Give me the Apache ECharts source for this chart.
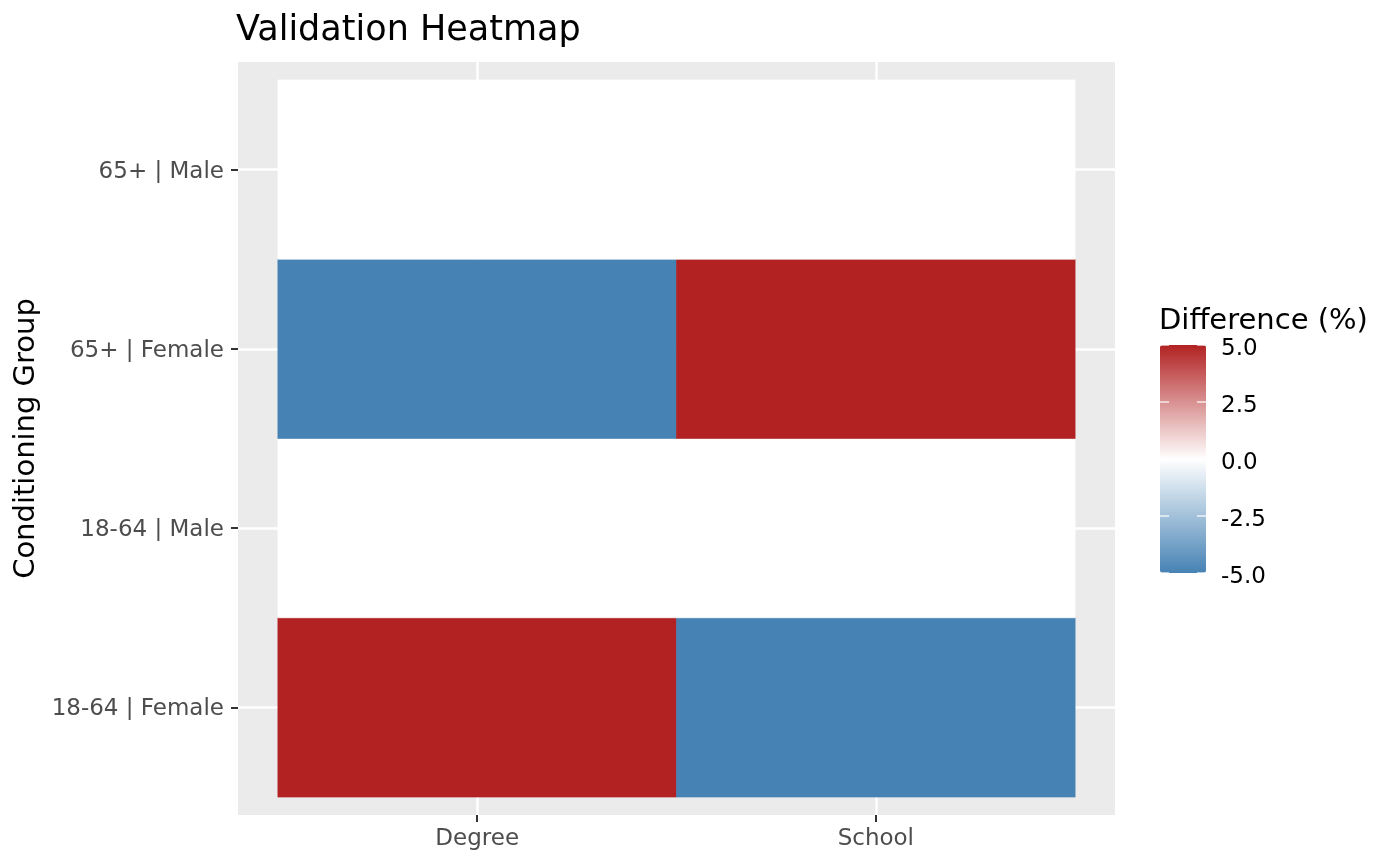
<!DOCTYPE html>
<html>
<head>
<meta charset="utf-8">
<script src="https://cdn.jsdelivr.net/npm/echarts@6/dist/echarts.min.js"></script>
<style>
  html, body { margin: 0; padding: 0; background: #fff; }
  #chart { width: 1400px; height: 865px; }
</style>
</head>
<body>
<div id="chart"></div>
<script>
// categories, bottom to top on the y axis
var variables = ['Degree', 'School'];
var groups = ['18-64 | Female', '18-64 | Male', '65+ | Female', '65+ | Male'];
// difference (%) per group
var degreeDiff = [5, 0, -5, 0];
var schoolDiff = [-5, 0, 5, 0];

var cells = [];
groups.forEach(function (g, i) {
  cells.push([0, i, degreeDiff[i]]);
  cells.push([1, i, schoolDiff[i]]);
});

var font = 'DejaVu Sans';
var xPos = [0, 1];
var yPos = [0, 1, 2, 3];
var noLine = { show: false, onZero: false };
var chart = echarts.init(document.getElementById('chart'));

var option = {
  backgroundColor: '#fff',
  animation: false,
  title: {
    text: 'Validation Heatmap',
    left: 236,
    top: 13,
    padding: 0,
    textStyle: { fontFamily: font, fontSize: 35, fontWeight: 'normal', color: '#000' }
  },
  grid: [{
    left: 238, top: 62, width: 877, height: 753,
    show: true, backgroundColor: '#EBEBEB', borderWidth: 0
  }, {
    left: 1160, top: 345, width: 46, height: 228, show: false
  }],
  xAxis: [{
    type: 'value', gridIndex: 0, min: -0.6, max: 1.6,
    axisLine: noLine,
    axisTick: { show: true, length: 7, customValues: xPos, lineStyle: { color: '#333', width: 2 } },
    axisLabel: {
      customValues: xPos, margin: 13,
      fontFamily: font, fontSize: 23, color: '#4D4D4D',
      formatter: function (v) { return variables[Math.round(v)]; }
    },
    splitLine: { show: true, lineStyle: { color: '#fff', width: 2.5 } }
  }, {
    type: 'value', gridIndex: 1, show: false, min: 0, max: 1
  }],
  yAxis: [{
    type: 'value', gridIndex: 0, min: -0.6, max: 3.6,
    name: 'Conditioning Group', nameLocation: 'middle', nameGap: 194,
    nameTextStyle: { fontFamily: font, fontSize: 29, color: '#000' },
    axisLine: noLine,
    axisTick: { show: true, length: 7, customValues: yPos, lineStyle: { color: '#333', width: 2 } },
    axisLabel: {
      customValues: yPos, margin: 14, verticalAlign: 'top', lineHeight: 4,
      fontFamily: font, fontSize: 23, color: '#4D4D4D',
      formatter: function (v) { return groups[Math.round(v)]; }
    },
    splitLine: { show: true, lineStyle: { color: '#fff', width: 2.5 } }
  }, {
    type: 'value', gridIndex: 1, position: 'right', min: -5, max: 5, interval: 2.5, z: 10,
    axisLine: noLine,
    axisTick: { show: true, inside: true, length: 9, lineStyle: { color: '#fff', width: 1.5, opacity: 0.8 } },
    axisLabel: {
      margin: 15, verticalAlign: 'top', lineHeight: 8,
      fontFamily: font, fontSize: 23, color: '#000',
      formatter: function (v) { return v.toFixed(1); }
    },
    splitLine: { show: false }
  }, {
    type: 'value', gridIndex: 1, position: 'left', min: -5, max: 5, interval: 2.5, z: 10,
    axisLine: noLine,
    axisTick: { show: true, inside: true, length: 9, lineStyle: { color: '#fff', width: 1.5, opacity: 0.8 } },
    axisLabel: { show: false },
    splitLine: { show: false }
  }],
  visualMap: {
    type: 'continuous', min: -5, max: 5, dimension: 2, seriesIndex: 0,
    inRange: { color: ['#4682B4', '#FFFFFF', '#B22222'] },
    left: 1160, top: 345, itemWidth: 46, itemHeight: 228,
    padding: 0, calculable: false, hoverLink: false, z: 4
  },
  graphic: [{
    type: 'text', left: 1159, top: 307,
    style: { text: 'Difference (%)', font: '29px "DejaVu Sans"', fill: '#000' }
  }],
  series: [{
    type: 'custom',
    xAxisIndex: 0, yAxisIndex: 0,
    z: 1,
    renderItem: function (params, api) {
      var c = api.coord([api.value(0), api.value(1)]);
      var s = api.size([1, 1]);
      var col = api.visual('color');
      return {
        type: 'rect',
        shape: { x: c[0] - s[0] / 2, y: c[1] - s[1] / 2, width: s[0], height: s[1] },
        style: { fill: col, stroke: col, lineWidth: 0.6 }
      };
    },
    encode: { x: 0, y: 1 },
    data: cells
  }]
};
chart.setOption(option);
</script>
</body>
</html>
